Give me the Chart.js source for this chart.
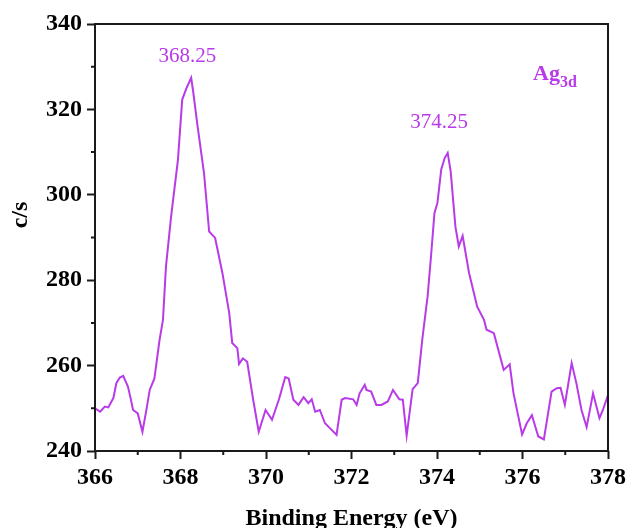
<!DOCTYPE html>
<html>
<head>
<meta charset="utf-8">
<script src="https://cdn.jsdelivr.net/npm/chart.js@4.4.0/dist/chart.umd.min.js"></script>
<style>
  html, body { margin: 0; padding: 0; background: #fff; }
  #wrap { width: 630px; height: 528px; }
</style>
</head>
<body>
<div id="wrap"><canvas id="xps"></canvas></div>
<script>
// Ag 3d spectrum, binding energy (eV) vs counts per second
const energy = [
  366.00, 366.12, 366.23, 366.31, 366.43, 366.50, 366.58, 366.66, 366.77, 366.83,
  366.89, 366.95, 367.00, 367.11, 367.20, 367.28, 367.39, 367.51, 367.59, 367.66,
  367.78, 367.94, 368.04, 368.14, 368.25, 368.30, 368.40, 368.55, 368.67, 368.81,
  368.98, 369.14, 369.21, 369.33, 369.37, 369.46, 369.56, 369.70, 369.83, 369.99,
  370.14, 370.30, 370.45, 370.53, 370.64, 370.76, 370.88, 370.99, 371.07, 371.15,
  371.26, 371.38, 371.50, 371.65, 371.77, 371.85, 372.04, 372.12, 372.19, 372.31,
  372.35, 372.46, 372.58, 372.70, 372.85, 372.97, 373.12, 373.20, 373.29, 373.43,
  373.55, 373.66, 373.78, 373.86, 373.94, 374.01, 374.10, 374.18, 374.25, 374.32,
  374.43, 374.51, 374.60, 374.75, 374.94, 375.10, 375.16, 375.33, 375.56, 375.70,
  375.79, 375.99, 376.10, 376.22, 376.30, 376.37, 376.50, 376.68, 376.80, 376.89,
  376.99, 377.15, 377.26, 377.38, 377.50, 377.65, 377.80, 377.88, 378.00
];
const counts = [
  250.0, 249.2, 250.4, 250.2, 252.4, 255.9, 257.2, 257.6, 255.1, 252.5,
  249.6, 249.2, 248.8, 244.5, 249.5, 254.3, 257.0, 266.0, 270.7, 283.2,
  294.9, 308.2, 322.3, 325.0, 327.4, 323.9, 316.0, 305.1, 291.4, 289.9,
  281.7, 272.3, 265.3, 264.1, 260.4, 261.7, 260.9, 252.0, 244.5, 249.6,
  247.3, 252.0, 257.3, 257.0, 252.0, 250.8, 252.6, 251.2, 252.1, 249.2,
  249.6, 246.5, 245.3, 243.8, 252.0, 252.4, 252.1, 250.8, 253.5, 255.5,
  254.3, 253.9, 250.8, 250.8, 251.6, 254.3, 252.1, 252.0, 243.6, 254.5,
  255.9, 266.5, 276.2, 285.6, 295.7, 298.1, 306.0, 308.6, 309.8, 305.5,
  292.6, 287.9, 290.4, 281.7, 273.8, 270.7, 268.4, 267.6, 259.0, 260.3,
  253.5, 243.9, 246.5, 248.4, 245.7, 243.4, 242.7, 253.9, 254.7, 254.8,
  250.8, 260.6, 255.9, 249.6, 245.6, 253.5, 247.7, 249.6, 253.1
];
const peakLabels = ['368.25', '374.25'];
const xTicks = [366, 368, 370, 372, 374, 376, 378];
const yTicks = [240, 260, 280, 300, 320, 340];

const purple = '#b83ae8';
const serif = '"Liberation Serif", "Times New Roman", serif';

// minor ticks, frame, y title and the text annotations
const decor = {
  id: 'decor',
  afterDraw(chart) {
    const { ctx, chartArea: a, scales: { x, y } } = chart;
    ctx.save();
    ctx.strokeStyle = '#1a1a1a';
    ctx.lineWidth = 2;
    ctx.strokeRect(a.left, a.top, a.right - a.left, a.bottom - a.top);
    ctx.beginPath();
    for (let i = 0; i < xTicks.length - 1; i++) {
      const px = x.getPixelForValue((xTicks[i] + xTicks[i + 1]) / 2);
      ctx.moveTo(px, a.bottom);
      ctx.lineTo(px, a.bottom + 4);
    }
    for (let i = 0; i < yTicks.length - 1; i++) {
      const py = y.getPixelForValue((yTicks[i] + yTicks[i + 1]) / 2);
      ctx.moveTo(a.left, py);
      ctx.lineTo(a.left - 4, py);
    }
    ctx.stroke();

    // y axis title sits a bit above the middle
    ctx.fillStyle = '#000';
    ctx.font = 'bold 24px ' + serif;
    ctx.textAlign = 'center';
    ctx.textBaseline = 'middle';
    ctx.translate(21, 215);
    ctx.rotate(-Math.PI / 2);
    ctx.fillText('c/s', 0, 0);
    ctx.setTransform(1, 0, 0, 1, 0, 0);

    ctx.fillStyle = purple;
    ctx.textBaseline = 'alphabetic';
    ctx.font = '21px ' + serif;
    ctx.fillText(peakLabels[0], x.getPixelForValue(368.16), y.getPixelForValue(331.2));
    ctx.fillText(peakLabels[1], x.getPixelForValue(374.05), y.getPixelForValue(315.7));

    ctx.textAlign = 'left';
    ctx.font = 'bold 22px ' + serif;
    ctx.fillText('Ag', 533, 80);
    const w = ctx.measureText('Ag').width;
    ctx.font = 'bold 16px ' + serif;
    ctx.fillText('3d', 533 + w, 87);
    ctx.restore();
  }
};

new Chart(document.getElementById('xps'), {
  type: 'line',
  data: {
    datasets: [{
      data: energy.map((e, i) => ({ x: e, y: counts[i] })),
      borderColor: purple,
      borderWidth: 2,
      pointRadius: 0,
      tension: 0,
      fill: false
    }]
  },
  options: {
    responsive: true,
    maintainAspectRatio: false,
    animation: false,
    layout: { padding: { top: 24, right: 18, left: 0, bottom: 0 } },
    plugins: { legend: { display: false }, tooltip: { enabled: false } },
    scales: {
      x: {
        type: 'linear',
        min: 366, max: 378,
        afterBuildTicks(s) { s.ticks = xTicks.map(v => ({ value: v })); },
        afterFit(s) { s.height = 77; },
        grid: { drawOnChartArea: false, tickLength: 8, tickWidth: 2, tickColor: '#1a1a1a' },
        border: { display: false },
        ticks: { color: '#000', padding: 4, font: { family: serif, size: 24, weight: 'bold' } },
        title: {
          display: true,
          text: 'Binding Energy (eV)',
          color: '#000',
          padding: { top: 0, bottom: -5 },
          font: { family: serif, size: 24, weight: 'bold' }
        }
      },
      y: {
        min: 240, max: 340,
        afterBuildTicks(s) { s.ticks = yTicks.map(v => ({ value: v })); },
        afterFit(s) { s.width = 95; },
        grid: { drawOnChartArea: false, tickLength: 8, tickWidth: 2, tickColor: '#1a1a1a' },
        border: { display: false },
        ticks: { color: '#000', padding: 5, font: { family: serif, size: 24, weight: 'bold' } }
      }
    }
  },
  plugins: [decor]
});
</script>
</body>
</html>
